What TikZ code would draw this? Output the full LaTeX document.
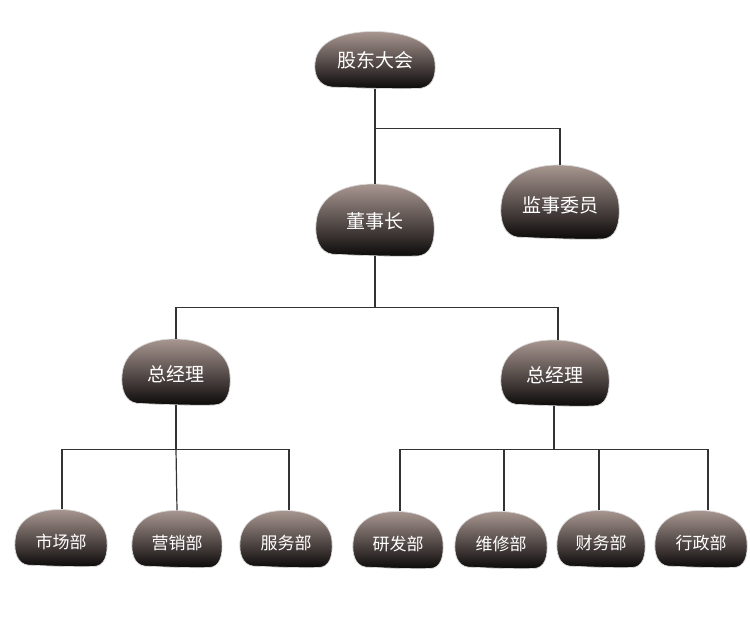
\documentclass[tikz,border=0pt]{standalone}
\usepackage{fontspec}
\setmainfont{Noto Sans CJK SC}
\definecolor{pebtop}{HTML}{A89690}
\definecolor{pebmid}{HTML}{75665F}
\definecolor{pebbot}{HTML}{0B0909}
\definecolor{linec}{HTML}{333333}
\tikzset{
  pebshade/.style={top color=pebtop, middle color=pebmid, bottom color=pebbot, draw=gray!30, line width=0.7pt},
  pebnode/.style={rectangle, inner sep=0pt},
  pebtext/.style={inner sep=0pt, text=white},
  conn/.style={draw=linec, line width=1.2pt},
}
\newcommand\pebble[8]{%
  \pgfmathsetmacro\pebA{#4/2}%
  \pgfmathsetmacro\pebB{#5/2}%
  \shade[pebshade] ({#2-0.72*\pebA},{#3+0.95*\pebB})
    .. controls ({#2-0.95*\pebA},{#3+0.9*\pebB}) and ({#2-1.02*\pebA},{#3+0.5*\pebB}) .. ({#2-\pebA},{#3+0.1*\pebB})
    .. controls ({#2-0.97*\pebA},{#3-0.65*\pebB}) and ({#2-0.55*\pebA},{#3-\pebB}) .. ({#2-0.03*\pebA},{#3-\pebB})
    .. controls ({#2+0.55*\pebA},{#3-\pebB}) and ({#2+0.98*\pebA},{#3-0.6*\pebB}) .. ({#2+\pebA},{#3+0.1*\pebB})
    .. controls ({#2+1.02*\pebA},{#3+0.6*\pebB}) and ({#2+0.95*\pebA},{#3+\pebB}) .. ({#2+0.7*\pebA},{#3+\pebB})
    .. controls ({#2+0.3*\pebA},{#3+1.02*\pebB}) and ({#2-0.3*\pebA},{#3+0.98*\pebB}) .. cycle;
  \node[pebnode, minimum width=#4pt, minimum height=#5pt] (#1) at (#2,#3) {};
  \node[pebtext, font=\fontsize{#6pt}{#6pt}\selectfont] (#1t) at (#2,{#3+#7}) {#8};
}
\begin{document}
\begin{tikzpicture}[x=1pt,y=-1pt]
\useasboundingbox[fill=white] (0,0) rectangle (750,627);
% nodes
\pebble{gd}{375}{60}{120}{57}{19}{0}{股东大会}
\pebble{js}{560}{202}{118}{74}{19}{3}{监事委员}
\pebble{dsz}{375}{220}{118}{72}{19}{1}{董事长}
\pebble{zl1}{176}{372}{108}{66}{19}{2}{总经理}
\pebble{zl2}{555}{373}{108}{66}{19}{2}{总经理}
\pebble{sc}{61}{538}{92}{57}{17}{4}{市场部}
\pebble{yx}{177}{539}{90}{57}{17}{4}{营销部}
\pebble{fw}{286}{539}{92}{57}{17}{4}{服务部}
\pebble{yf}{398}{540}{90}{57}{17}{4}{研发部}
\pebble{wx}{501}{540}{92}{57}{17}{4}{维修部}
\pebble{cw}{601}{539}{88}{57}{17}{4}{财务部}
\pebble{xz}{701}{539}{92}{57}{17}{4}{行政部}
% connectors
\draw[conn] (gd.south) -- (dsz.north);
\draw[conn] (gd.south) ++(0,40) coordinate (j1) -| (js.north);
\draw[conn] (dsz.south) -- ++(0,51) coordinate (j2);
\draw[conn] (j2) -| (zl1.north);
\draw[conn] (j2) -| ([xshift=3pt]zl2.north);
\draw[conn] (zl1.south) -- ++(0,44) coordinate (j3);
\draw[conn] (j3) -| ([xshift=1pt]sc.north);
\draw[conn] (j3) -- (yx.north);
\draw[conn] (j3) -| ([xshift=3pt]fw.north);
\draw[conn] ([xshift=-1pt]zl2.south) -- ++(0,43) coordinate (j4);
\draw[conn] (j4) -| ([xshift=2pt]yf.north);
\draw[conn] (j4) -| ([xshift=3pt]wx.north);
\draw[conn] (j4) -| ([xshift=-2pt]cw.north);
\draw[conn] (j4) -| ([xshift=7pt]xz.north);
\end{tikzpicture}
\end{document}
